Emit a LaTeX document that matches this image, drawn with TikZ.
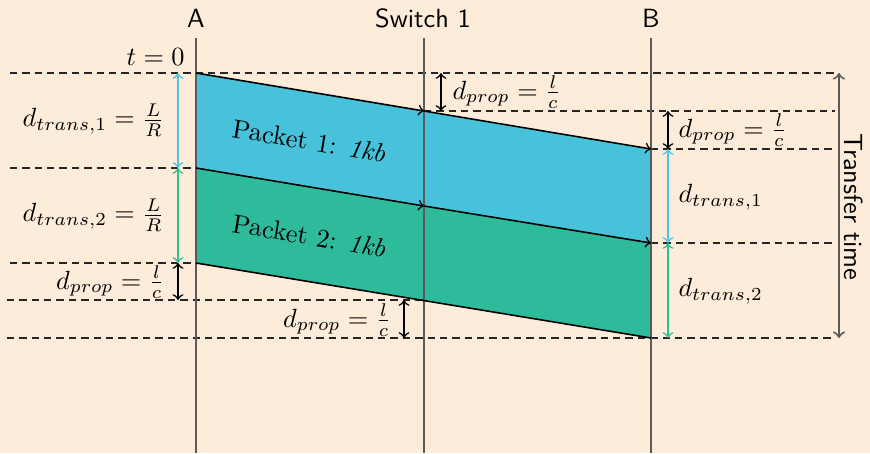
\documentclass[tikz,border=0pt]{standalone}
\usetikzlibrary{calc}
\definecolor{bg}{RGB}{254,236,219}
\definecolor{pcyan}{RGB}{72,194,218}
\definecolor{pgreen}{RGB}{46,187,155}
\definecolor{dcyan}{RGB}{80,196,222}
\definecolor{dgreen}{RGB}{52,190,150}
\definecolor{axisgray}{RGB}{90,90,90}
\begin{document}
\begin{tikzpicture}[x=0.38pt,y=-0.38pt,
  dline/.style={black!85, semithick, dash pattern=on 2.8pt off 1.9pt},
  axisline/.style={axisgray, line width=0.75pt},
  edge/.style={black, semithick},
  dim/.style={<->, semithick},
  lbl/.style={inner sep=0pt},
  hdr/.style={font=\sffamily, inner sep=0pt}]
\useasboundingbox (0,0) rectangle (870,453);
\fill[bg] (0,0) rectangle (870,453);
% packet corner points
\coordinate (a1) at (196,73);
\coordinate (a2) at (196,168);
\coordinate (a3) at (196,263);
\coordinate (s1) at (424,111);
\coordinate (s2) at (424,206);
\coordinate (s3) at (424,300);
\coordinate (b1) at (651,149);
\coordinate (b2) at (651,243);
\coordinate (b3) at (651,338);
% packets
\fill[pcyan] (a1) -- (b1) -- (b2) -- (a2) -- cycle;
\fill[pgreen] (a2) -- (b2) -- (b3) -- (a3) -- cycle;
% dashed time lines
\coordinate (l73) at (10,73);   \coordinate (r73) at (835,73);
\coordinate (r112) at (835,111);
\coordinate (r149) at (835,149);
\coordinate (l168) at (10,168);
\coordinate (r243) at (835,243);
\coordinate (l263) at (10,263);
\coordinate (l300) at (7,300);
\coordinate (l338) at (7,338);  \coordinate (r338) at (835,338);
\draw[dline] (l73) -- (r73);
\draw[dline] (s1) -- (r112);
\draw[dline] (b1) -- (r149);
\draw[dline] (l168) -- (a2);
\draw[dline] (b2) -- (r243);
\draw[dline] (l263) -- (a3);
\draw[dline] (l300) -- (s3);
\draw[dline] (l338) -- (r338);
% headers and vertical lines
\node[hdr] (A) at (196,18) {A};
\node[hdr] (S) at (423,18) {Switch 1};
\node[hdr] (B) at (651,18) {B};
\coordinate (At) at (196,38); \coordinate (Ab) at (196,453);
\coordinate (St) at (424,38); \coordinate (Sb) at (424,453);
\coordinate (Bt) at (651,38); \coordinate (Bb) at (651,453);
\draw[axisline] (At) -- (Ab);
\draw[axisline] (St) -- (Sb);
\draw[axisline] (Bt) -- (Bb);
% packet edges
\draw[edge,->] (a1) -- (s1);
\draw[edge,->] (s1) -- (b1);
\draw[edge,->] (a2) -- (s2);
\draw[edge,->] (s2) -- (b2);
\draw[edge] (a3) -- (b3);
% packet labels
\node[lbl, rotate=-9.5] (P1) at (309,141) {Packet 1: \textit{1kb}};
\node[lbl, rotate=-9.5] (P2) at (309,236) {Packet 2: \textit{1kb}};
% t = 0
\node[lbl, anchor=east] (t0) at (185,57) {$t=0$};
% dimension arrows left
\coordinate (la1) at (178,73);
\coordinate (la2) at (178,168);
\coordinate (la3) at (178,263);
\coordinate (la4) at (178,300);
\draw[dim, dcyan] (la1) -- (la2);
\draw[dim, dgreen] (la2) -- (la3);
\draw[dim, black] (la3) -- (la4);
\node[lbl, anchor=east] (dt1) at (165,120) {$d_{trans,1}=\frac{L}{R}$};
\node[lbl, anchor=east] (dt2) at (165,215) {$d_{trans,2}=\frac{L}{R}$};
\node[lbl, anchor=east] (dp3) at (165,282) {$d_{prop}=\frac{l}{c}$};
% dimension arrow at switch
\coordinate (sa1) at (441,73);
\coordinate (sa2) at (441,111);
\draw[dim, black] (sa1) -- (sa2);
\node[lbl, anchor=west] (dp1) at (452,92) {$d_{prop}=\frac{l}{c}$};
\coordinate (sb1) at (404,300);
\coordinate (sb2) at (404,338);
\draw[dim, black] (sb1) -- (sb2);
\node[lbl, anchor=east] (dp4) at (392,320) {$d_{prop}=\frac{l}{c}$};
% dimension arrows right
\coordinate (ra1) at (668,111);
\coordinate (ra2) at (668,149);
\coordinate (ra3) at (668,243);
\coordinate (ra4) at (668,338);
\draw[dim, black] (ra1) -- (ra2);
\draw[dim, dcyan] (ra2) -- (ra3);
\draw[dim, dgreen] (ra3) -- (ra4);
\node[lbl, anchor=west] (dp2) at (678,130) {$d_{prop}=\frac{l}{c}$};
\node[lbl, anchor=west] (dr1) at (678,197) {$d_{trans,1}$};
\node[lbl, anchor=west] (dr2) at (678,291) {$d_{trans,2}$};
% transfer time
\coordinate (tt1) at (839,73);
\coordinate (tt2) at (839,338);
\draw[<->, axisline] (tt1) -- (tt2);
\node[hdr, rotate=-90] (TT) at (854,207) {Transfer time};
\end{tikzpicture}
\end{document}
